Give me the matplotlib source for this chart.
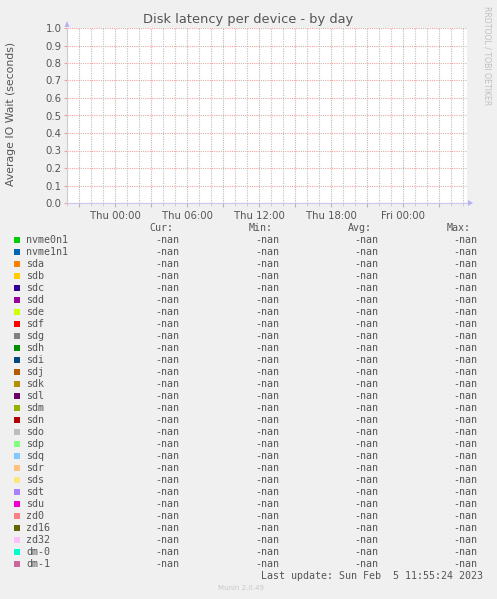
import numpy as np
import matplotlib
matplotlib.use("Agg")
import matplotlib.pyplot as plt
from matplotlib.ticker import MultipleLocator, FuncFormatter

# devices and their munin colours
devices = ['nvme0n1', 'nvme1n1', 'sda', 'sdb', 'sdc', 'sdd', 'sde', 'sdf', 'sdg', 'sdh',
           'sdi', 'sdj', 'sdk', 'sdl', 'sdm', 'sdn', 'sdo', 'sdp', 'sdq', 'sdr',
           'sds', 'sdt', 'sdu', 'zd0', 'zd16', 'zd32', 'dm-0', 'dm-1']
colors = ['#00CC00', '#0066B3', '#FF8000', '#FFCC00', '#330099', '#990099', '#CCFF00', '#FF0000',
          '#808080', '#008F00', '#00487D', '#B35A00', '#B38F00', '#6B006B', '#8FB300', '#B30000',
          '#BEBEBE', '#80FF80', '#80C9FF', '#FFC080', '#FFE680', '#AA80FF', '#EE00CC', '#FF8080',
          '#666600', '#FFBFFF', '#00FFCC', '#CC6699']

# hours relative to Thu 00:00, no data recorded -> all nan
hours = [-4.0, 0.0, 6.0, 12.0, 18.0, 24.0, 29.33]
cur = [np.nan] * len(devices)
vmin = [np.nan] * len(devices)
vavg = [np.nan] * len(devices)
vmax = [np.nan] * len(devices)
series = [[np.nan] * len(hours) for _ in devices]

W, H = 497, 599
BG = '#F0F0F0'
TXT = '#555555'

fig = plt.figure(figsize=(W / 100, H / 100), dpi=100, facecolor=BG)
ax = fig.add_axes([67 / W, 1 - 203 / H, 400 / W, 175 / H], facecolor='white')

for name, c, s in zip(devices, colors, series):
    ax.plot(hours, s, color=c, lw=1)

ax.set_xlim(-4, 29.33)
ax.set_ylim(0, 1.0)

def px(x, y):
    return x / W, 1 - y / H

# grid: minor gray, major red (munin style)
ax.xaxis.set_minor_locator(MultipleLocator(1))
ax.xaxis.set_major_locator(MultipleLocator(3))
ax.yaxis.set_major_locator(MultipleLocator(0.1))

def xfmt(h, pos):
    if round(h) % 6 != 0:
        return ''
    day = ['Wed', 'Thu', 'Fri'][int(h // 24) + 1]
    return f"{day} {int(h % 24):02d}:00"

ax.xaxis.set_major_formatter(FuncFormatter(xfmt))
ax.yaxis.set_major_formatter(FuncFormatter(lambda v, p: f"{v:.1f}"))

ax.grid(which='minor', axis='x', color='#BDBDBD', ls=(0, (1, 1.2)), lw=0.8)
ax.grid(which='major', axis='both', color='#E8A8A8', ls=(0, (1, 1)), lw=0.8)

for sp in ['top', 'right']:
    ax.spines[sp].set_visible(False)
for sp in ['left', 'bottom']:
    ax.spines[sp].set_color('#C8C8F0')
    ax.spines[sp].set_linewidth(0.8)

ax.tick_params(axis='x', which='major', length=3, color='#E8A0A0', labelsize=7.3,
               labelcolor=TXT, pad=3)
ax.tick_params(axis='x', which='minor', length=2, color='#C8C8C8')
ax.tick_params(axis='y', which='major', length=2, color='#E8A0A0', labelsize=7.3,
               labelcolor=TXT, pad=2)

# axis arrows
fig.patches.append(plt.Polygon([px(468, 200), px(468, 206), px(473, 203)], closed=True,
                               transform=fig.transFigure, color='#B4B4F0', lw=0))
fig.patches.append(plt.Polygon([px(64.5, 27), px(69.5, 27), px(67, 21)], closed=True,
                               transform=fig.transFigure, color='#B4B4F0', lw=0))

fig.text(*px(248, 19), 'Disk latency per device - by day', ha='center', va='center',
         fontsize=9.4, color=TXT)
fig.text(*px(11, 114), 'Average IO Wait (seconds)', ha='center', va='center',
         rotation=90, fontsize=7.8, color=TXT)
fig.text(*px(487, 56), 'RRDTOOL / TOBI OETIKER', ha='center', va='center',
         rotation=-90, fontsize=5.6, color='#C0C0C0')

mono = 'DejaVu Sans Mono'
fs = 7.2
hdr_y = 228
for lbl, xr in zip(['Cur:', 'Min:', 'Avg:', 'Max:'], [173, 273, 372, 471]):
    fig.text(*px(xr, hdr_y), lbl, ha='right', va='center', family=mono, fontsize=fs, color=TXT)

for i, (name, c) in enumerate(zip(devices, colors)):
    y = 240 + 12 * i
    fig.patches.append(plt.Rectangle(px(14, y + 3), 6 / W, 6 / H, transform=fig.transFigure,
                                     facecolor=c, edgecolor='none'))
    fig.text(*px(26, y), name, ha='left', va='center', family=mono, fontsize=fs, color=TXT)
    for v, xr in zip([cur[i], vmin[i], vavg[i], vmax[i]], [179, 279, 378, 477]):
        fig.text(*px(xr, y), f"{v:.2f}" if not np.isnan(v) else '-nan', ha='right',
                 va='center', family=mono, fontsize=fs, color=TXT)

fig.text(*px(483, 576), 'Last update: Sun Feb  5 11:55:24 2023', ha='right', va='center',
         family=mono, fontsize=fs, color=TXT)
fig.text(*px(241, 588), 'Munin 2.0.49', ha='center', va='center', fontsize=5.0,
         color='#C8C8C8')

fig.savefig('out.png', dpi=100, facecolor=BG)
